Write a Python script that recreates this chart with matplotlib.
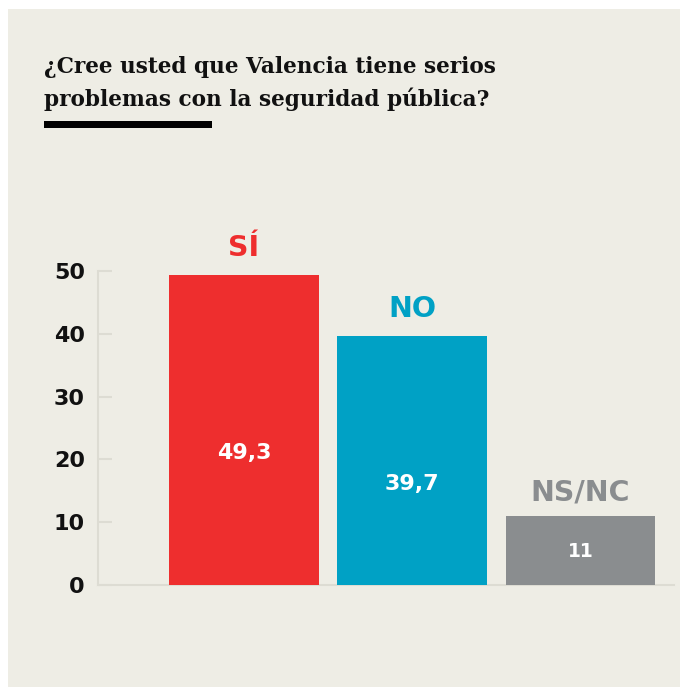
import matplotlib.pyplot as plt
from matplotlib.patches import Rectangle

# survey answers
categories = ["SÍ", "NO", "NS/NC"]
values = [49.3, 39.7, 11]
value_labels = ["49,3", "39,7", "11"]
yticks = [0, 10, 20, 30, 40, 50]

title_lines = ["¿Cree usted que Valencia tiene serios", "problemas con la seguridad pública?"]

bar_colors = ["#ee2e2e", "#00a1c5", "#8a8d8f"]
value_label_y = [21.0, 16.1, 5.4]  # where the white numbers sit inside the bars
BG = "#eeede5"
GRID = "#dddcd3"

W, H = 680, 687
fig = plt.figure(figsize=(W / 100, H / 100), dpi=100)
fig.patch.set_facecolor("white")

# beige panel with the white margin on the left and top
fig.add_artist(Rectangle((8 / W, 0), 1 - 8 / W, 1 - 9 / H, transform=fig.transFigure,
                         facecolor=BG, edgecolor="none", zorder=0))

# title (one text per line so both baselines are placed exactly) and black rule
for line, base in zip(title_lines, [73, 106]):
    fig.text(44 / W, 1 - base / H, line, fontsize=15.6, fontweight="bold", family="DejaVu Serif",
             va="baseline", ha="left", color="#111111")
fig.add_artist(Rectangle((44 / W, 1 - 128 / H), (212 - 44) / W, 7 / H, transform=fig.transFigure,
                         facecolor="black", edgecolor="none"))

# axes placement in pixels
left, right, bottom, top = 98, 674, 585, 271
ax = fig.add_axes([left / W, 1 - bottom / H, (right - left) / W, (bottom - top) / H])
ax.set_facecolor("none")

x = list(range(len(categories)))
ax.bar(x, values, width=0.89, color=bar_colors, edgecolor="none", zorder=3)
ax.set_xlim(-0.8675, 2.555)
ax.set_ylim(0, 50)

for i, (v, c, lab) in enumerate(zip(values, bar_colors, categories)):
    off = 9 if i == 2 else 13
    ax.annotate(lab, (i, v), xytext=(0, off * 0.72), textcoords="offset points",
                ha="center", va="bottom", fontsize=20.5, fontweight="bold", color=c,
                family="DejaVu Sans")
    ax.text(i, value_label_y[i], value_labels[i], ha="center", va="center",
            fontsize=16 if i < 2 else 13.5, fontweight="bold", color="white", zorder=4)

ax.set_yticks(yticks)
ax.set_yticklabels([str(t) for t in yticks], fontsize=16, fontweight="bold", color="#111111")
ax.tick_params(axis="y", direction="in", length=10, width=1.5, color=GRID, pad=9.5)
ax.set_xticks([])

for s in ["top", "right"]:
    ax.spines[s].set_visible(False)
for s in ["left", "bottom"]:
    ax.spines[s].set_color(GRID)
    ax.spines[s].set_linewidth(1.5)

fig.savefig("out.png", dpi=100, facecolor=fig.get_facecolor())
